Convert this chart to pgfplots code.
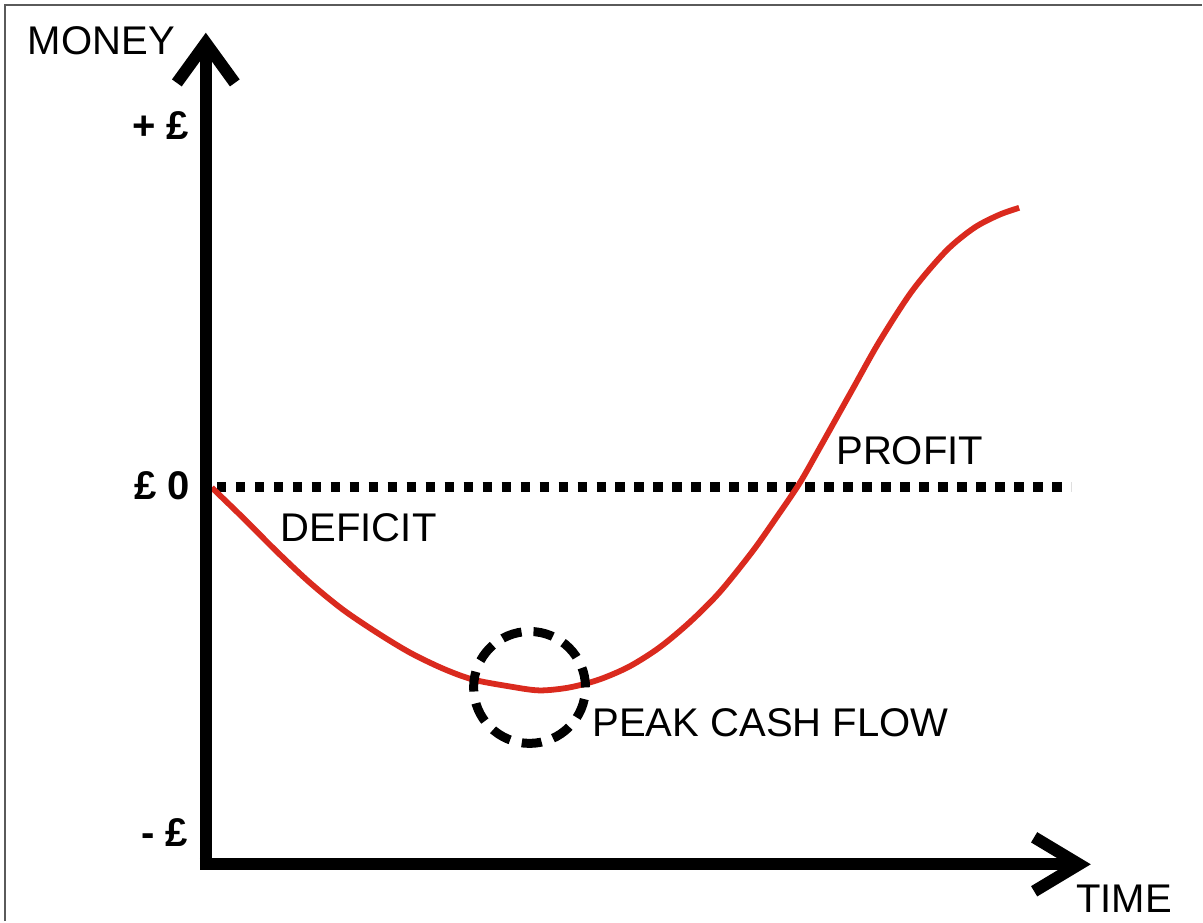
\documentclass[border=0pt]{standalone}
\usepackage{pgfplots}
\pgfplotsset{compat=1.18}
\usepackage{fontspec}
\setmainfont{Liberation Sans}
\definecolor{curvered}{HTML}{DA2A1E}
\definecolor{framegray}{HTML}{5A5A5A}
\begin{document}
\begin{tikzpicture}[
  lbl/.style={font=\fontsize{11.4}{13}\selectfont, inner sep=0pt, outer sep=0pt},
  blbl/.style={font=\fontsize{11.4}{13}\selectfont\bfseries, inner sep=0pt, outer sep=0pt},
]
\begin{axis}[
  width=12.03cm, height=9.22cm, scale only axis,
  xmin=0, xmax=1203, ymin=-435, ymax=487,
  axis lines=none, clip=false,
]
% invisible frame to fix the bounding box
\path (rel axis cs:0,0) rectangle (rel axis cs:1,1);
% thin picture border (top and left)
\draw[framegray, line width=0.2mm] (axis cs:5,-435) -- (axis cs:5,482) -- (axis cs:1203,482);

% zero line
\draw[black, line width=1mm, dash pattern=on 0.95mm off 0.95mm] (axis cs:217,0) -- (axis cs:1072,0);

% cash flow curve
\addplot[curvered, line width=0.58mm, smooth, tension=0.5, no marks] coordinates {
(212,-1) (243,-31) (277,-65) (310,-96) (343,-123) (377,-146) (410,-166)
(443,-182) (473,-193) (510,-200) (540,-204) (570,-201) (600,-193) (630,-180)
(660,-161) (690,-136) (720,-106) (753,-65) (777,-31) (800,3) (820,38)
(853,97) (880,145) (913,196) (947,236) (975,259) (1000,272) (1020,279)
};

% axes
\draw[black, line width=1.2mm] (axis cs:206,444) -- (axis cs:206,-384);
\draw[black, line width=1.2mm] (axis cs:200,-378) -- (axis cs:1080,-378);
\draw[black, line width=1.2mm, miter limit=10] (axis cs:177,404) -- (axis cs:206,444) -- (axis cs:235,404);
\draw[black, line width=1.2mm, miter limit=10] (axis cs:1035,-351) -- (axis cs:1080,-378) -- (axis cs:1035,-405);

% peak circle
\draw[black, line width=0.9mm, dash pattern=on 2.0mm off 1.2mm] (axis cs:530,-201) circle [radius=5.6mm];

% labels
\node[lbl, anchor=base west] at (axis cs:28,432) {MONEY};
\node[lbl, anchor=base west] at (axis cs:1077,-426) {TIME};
\node[lbl, anchor=base west] at (axis cs:281,-55) {DEFICIT};
\node[lbl, anchor=base west] at (axis cs:837,22) {PROFIT};
\node[lbl, anchor=base west] at (axis cs:593,-250) {PEAK CASH FLOW};
\node[blbl, anchor=base east] at (axis cs:189,347) {+ £};
\node[blbl, anchor=base east] at (axis cs:190,-13) {£ 0};
\node[blbl, anchor=base east] at (axis cs:188,-360) {- £};
\end{axis}
\end{tikzpicture}
\end{document}
